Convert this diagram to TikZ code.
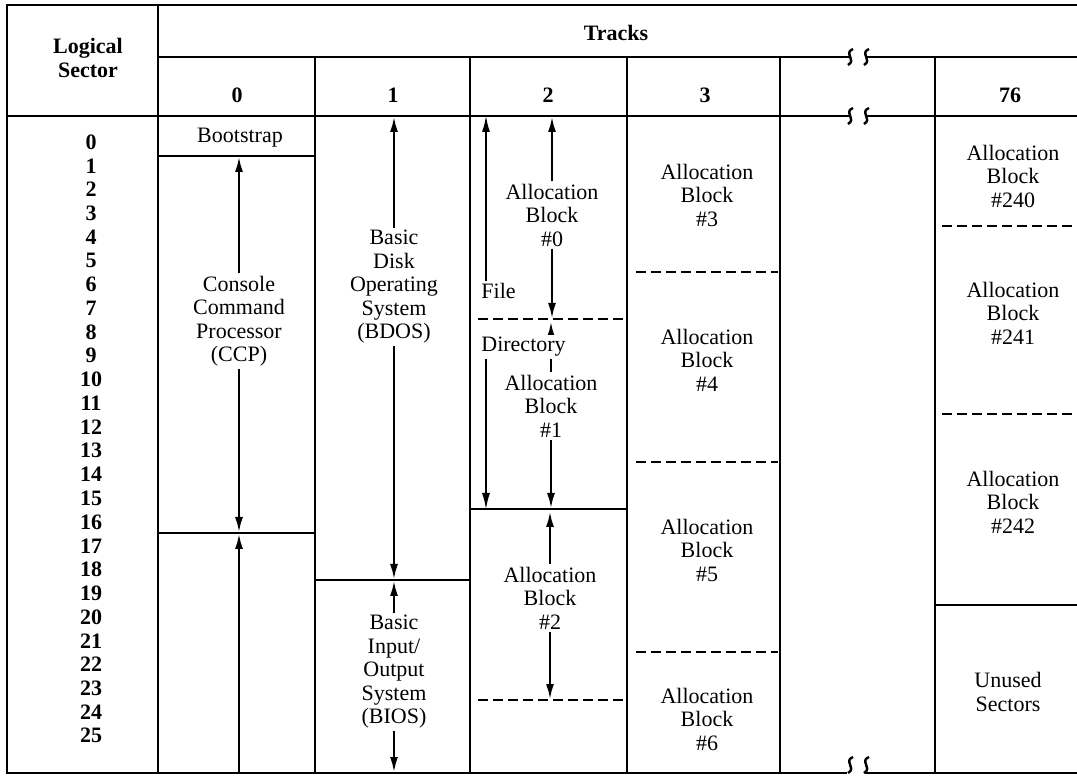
\documentclass[tikz,border=0pt]{standalone}
\usepackage{fontspec}
\setmainfont{Liberation Serif}
\usetikzlibrary{arrows.meta}

\tikzset{
  rule/.style={line width=1.4pt},
  sep/.style={line width=1.1pt, dash pattern=on 5pt off 2.5pt},
  arr/.style={line width=1.3pt, -{Latex[length=8pt,width=4pt]}},
  thinarr/.style={line width=0.7pt, -{Latex[length=8pt,width=4pt]}},
  txt/.style={align=center, inner sep=1pt, font=\fontsize{11}{11.75}\selectfont},
  hd/.style={txt, font=\fontsize{11}{11.75}\selectfont\bfseries},
  num/.style={inner sep=0pt, font=\fontsize{11}{11.75}\selectfont\bfseries}
}

% small squiggle of a track break
\newcommand{\trackbreak}[2]{%
  \draw[line width=1.2pt] (#1+3,#2-8) .. controls (#1-7,#2-4) and (#1+7,#2+3) .. (#1-2,#2+8);}

\begin{document}
\begin{tikzpicture}[x=0.5pt,y=-0.5pt]
  \useasboundingbox (0,0) rectangle (1077,780);

  % frame and headers
  \draw[rule] (1077,5) -- (7,5) -- (7,773) -- (847,773);
  \draw[rule] (865,773) -- (1077,773);
  \draw[rule] (158,5) -- (158,773);
  \draw[rule] (158,57) -- (850,57);
  \draw[rule] (866,57) -- (1077,57);
  \draw[rule] (7,116) -- (850,116);
  \draw[rule] (866,116) -- (1077,116);
  \foreach \x in {315,470,627,780,935}
    \draw[rule] (\x,57) -- (\x,773);
  \trackbreak{850}{57}
  \trackbreak{866}{57}
  \trackbreak{850}{116}
  \trackbreak{866}{116}
  \trackbreak{850}{765}
  \trackbreak{866}{765}

  \node[hd] (lsec) at (88,58) {Logical\\Sector};
  \node[hd] (tracks) at (616,33) {Tracks};
  \node[hd] (t0) at (237,95) {0};
  \node[hd] (t1) at (393,95) {1};
  \node[hd] (t2) at (548,95) {2};
  \node[hd] (t3) at (705,95) {3};
  \node[hd] (t76) at (1010,95) {76};

  \foreach \i in {0,...,25}
    \node[num] (s\i) at (91,{142+23.75*\i}) {\i};

  % partitions
  \draw[rule] (158,156) -- (315,156);
  \draw[rule] (158,533) -- (315,533);
  \draw[rule] (315,580) -- (470,580);
  \draw[rule] (470,509) -- (627,509);
  \draw[rule] (935,605) -- (1077,605);
  \draw[sep] (478,319) -- (627,319);
  \draw[sep] (478,700) -- (627,700);
  \draw[sep] (636,272) -- (778,272);
  \draw[sep] (636,462) -- (778,462);
  \draw[sep] (636,652) -- (778,652);
  \draw[sep] (942,226) -- (1077,226);
  \draw[sep] (942,414) -- (1077,414);

  % track 0
  \node[txt] (boot) at (240,138) {Bootstrap};
  \node[txt] (ccp) at (239,321) {Console\\Command\\Processor\\(CCP)};
  \coordinate (ccptop) at (239,156);
  \coordinate (ccpbot) at (239,533);
  \coordinate (ccpend) at (239,773);
  \draw[arr] (ccp.north) -- (ccptop);
  \draw[arr] (ccp.south) -- (ccpbot);
  \draw[arr] (ccpend) -- (ccpbot);

  % track 1
  \node[txt] (bdos) at (394,287) {Basic\\Disk\\Operating\\System\\(BDOS)};
  \node[txt] (bios) at (394,672) {Basic\\Input/\\Output\\System\\(BIOS)};
  \coordinate (bdostop) at (394,116);
  \coordinate (bdosbot) at (394,580);
  \coordinate (biosend) at (394,773);
  \draw[arr] (bdos.north) -- (bdostop);
  \draw[arr] (bdos.south) -- (bdosbot);
  \draw[arr] (bios.north) -- (bdosbot);
  \draw[arr] (bios.south) -- (biosend);

  % track 2
  \node[txt, anchor=west] (file) at (479,291) {File};
  \node[txt] (ab0) at (552,215) {Allocation\\Block\\\#0};
  \node[txt] (ab1) at (551,406) {Allocation\\Block\\\#1};
  \node[txt] (ab2) at (550,598) {Allocation\\Block\\\#2};
  \coordinate (dirtop) at (486,116);
  \coordinate (dirbot) at (486,509);
  \draw[thinarr] (file.north -| dirtop) -- (dirtop);
  \draw[arr] (ab0.north) -- (552,116);
  \draw[arr] (ab0.south) -- (552,319);
  \draw[arr] (ab1.north) -- (551,321);
  \draw[arr] (ab1.south) -- (551,509);
  \draw[arr] (ab2.north) -- (550,511);
  \draw[arr] (ab2.south) -- (550,700);
  \node[txt, anchor=west, fill=white] (dir) at (479,347) {Directory};
  \draw[thinarr] (dir.south -| dirbot) -- (dirbot);

  % track 3
  \node[txt] (ab3) at (707,195) {Allocation\\Block\\\#3};
  \node[txt] (ab4) at (707,360) {Allocation\\Block\\\#4};
  \node[txt] (ab5) at (707,550) {Allocation\\Block\\\#5};
  \node[txt] (ab6) at (707,719) {Allocation\\Block\\\#6};

  % track 76
  \node[txt] (ab240) at (1013,176) {Allocation\\Block\\\#240};
  \node[txt] (ab241) at (1013,313) {Allocation\\Block\\\#241};
  \node[txt] (ab242) at (1013,502) {Allocation\\Block\\\#242};
  \node[txt] (unused) at (1008,692) {Unused\\Sectors};
\end{tikzpicture}
\end{document}
